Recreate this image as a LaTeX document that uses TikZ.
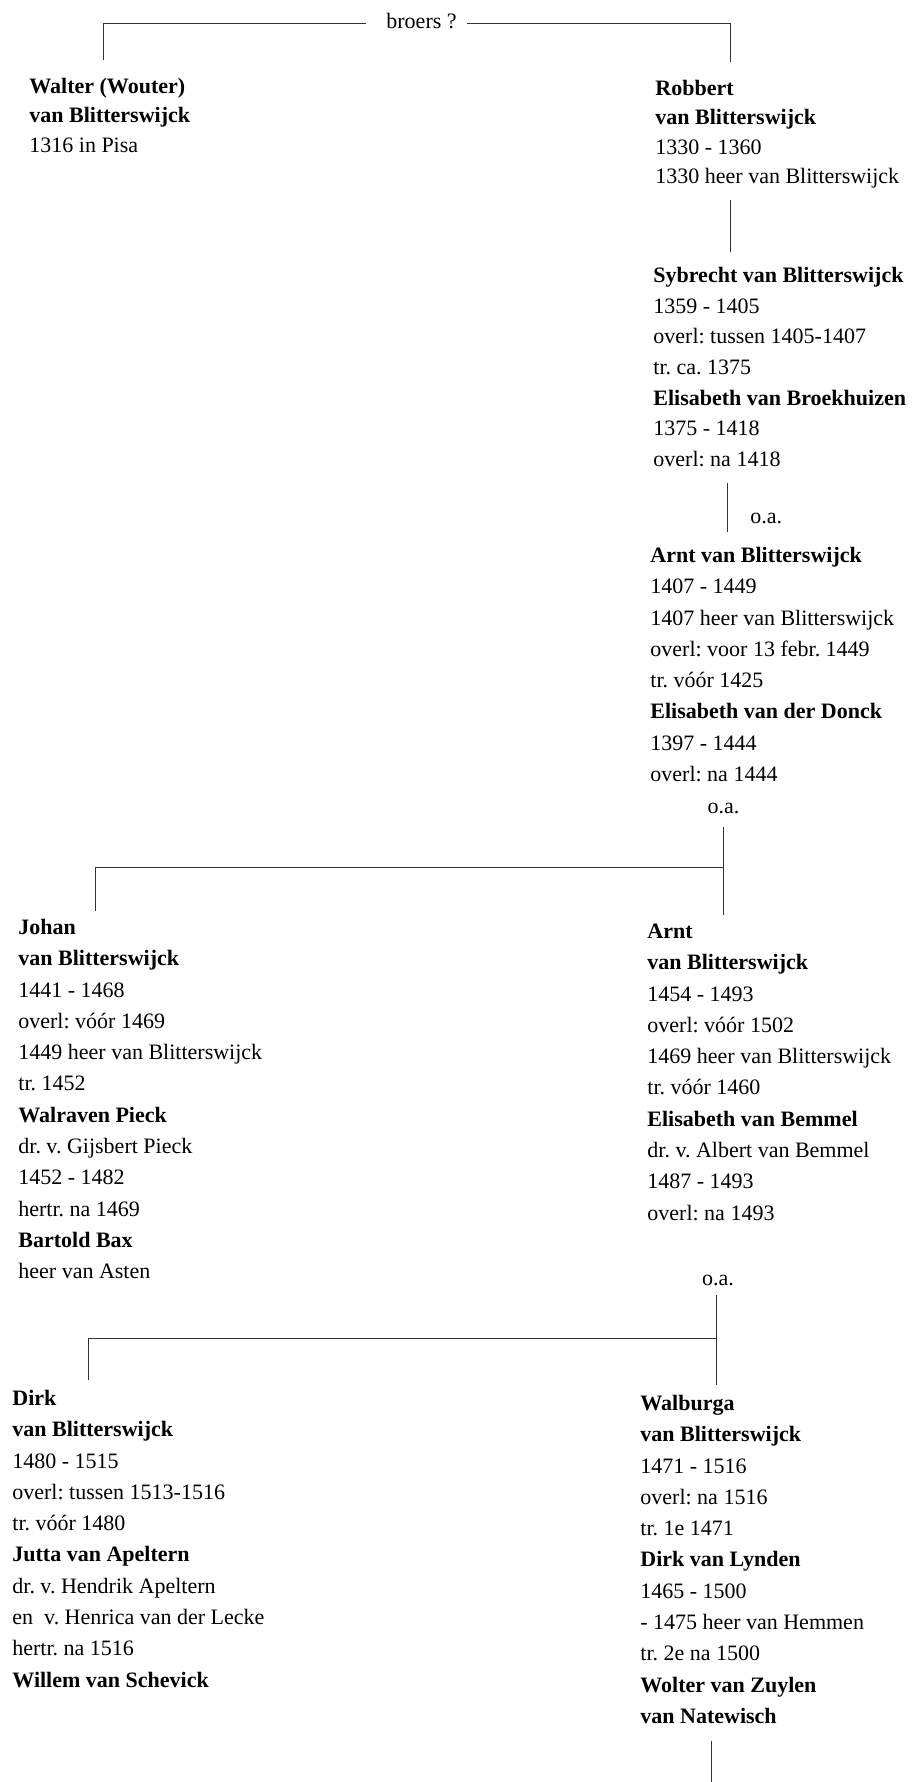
\documentclass[tikz,border=0pt]{standalone}
\usepackage{fontspec}
\setmainfont{Liberation Serif}
\frenchspacing
\newcommand\topstrut{\rule{0pt}{11pt}}
\begin{document}
\begin{tikzpicture}[x=0.5pt,y=-0.5pt,
  person/.style={anchor=north west,inner sep=0pt,align=left,font=\fontsize{11}{15.65}\selectfont},
  persontop/.style={person,font=\fontsize{11}{14.65}\selectfont},
  personmid/.style={person,font=\fontsize{11}{15.35}\selectfont},
  note/.style={inner sep=0pt,font=\fontsize{11}{13}\selectfont},
  link/.style={draw=black!80,line width=0.5pt}]
\useasboundingbox (0,0) rectangle (911,1782);

% --- top generation
\node[persontop] (walter) at (29,71) {\topstrut\textbf{Walter (Wouter)}\\\textbf{van Blitterswijck}\\1316 in Pisa};
\node[persontop] (robbert) at (655,73) {\topstrut\textbf{Robbert}\\\textbf{van Blitterswijck}\\1330 - 1360\\1330 heer van Blitterswijck};
\node[note,anchor=base west] (broers) at (386,29) {broers ?};
\coordinate (wl) at (103,60);
\coordinate (rl) at (730,62);
\draw[link] (wl) |- ([xshift=-10pt,yshift=2.5pt]broers.base west);
\draw[link] ([xshift=5pt,yshift=2.5pt]broers.base east) -| (rl);

% --- Sybrecht
\node[personmid] (sybrecht) at (653,260) {\topstrut\textbf{Sybrecht van Blitterswijck}\\1359 - 1405\\overl: tussen 1405-1407\\tr. ca. 1375\\\textbf{Elisabeth van Broekhuizen}\\1375 - 1418\\overl: na 1418};
\draw[link] ([yshift=-6pt]robbert.south -| rl) -- ([yshift=4pt]sybrecht.north -| rl);

% --- Arnt (1)
\coordinate (col1) at (727,0);
\node[person] (arnt1) at (650,540) {\topstrut\textbf{Arnt van Blitterswijck}\\1407 - 1449\\1407 heer van Blitterswijck\\overl: voor 13 febr. 1449\\tr. vóór 1425\\\textbf{Elisabeth van der Donck}\\1397 - 1444\\overl: na 1444};
\node[note,anchor=base west] (oa1) at (750,523) {o.a.};
\draw[link] ([yshift=-8pt]sybrecht.south -| col1) -- ([yshift=4pt]arnt1.north -| col1);

% --- Johan and Arnt (2)
\node[note,anchor=base] (oa2) at (723.5,813) {o.a.};
\node[person] (johan) at (18,912) {\topstrut\textbf{Johan}\\\textbf{van Blitterswijck}\\1441 - 1468\\overl: vóór 1469\\1449 heer van Blitterswijck\\tr. 1452\\\textbf{Walraven Pieck}\\dr. v. Gijsbert Pieck\\1452 - 1482\\hertr. na 1469\\\textbf{Bartold Bax}\\heer van Asten};
\node[person] (arnt2) at (647,916) {\topstrut\textbf{Arnt}\\\textbf{van Blitterswijck}\\1454 - 1493\\overl: vóór 1502\\1469 heer van Blitterswijck\\tr. vóór 1460\\\textbf{Elisabeth van Bemmel}\\dr. v. Albert van Bemmel\\1487 - 1493\\overl: na 1493};
\coordinate (fork1) at (724,867);
\coordinate (c1) at (95,911);
\draw[link] ([yshift=-7pt]oa2.base) -- ([yshift=0.5pt]oa2.base |- arnt2.north);
\draw[link] (fork1) -| (c1);

% --- Dirk and Walburga
\node[note,anchor=base] (oa3) at (718,1285) {o.a.};
\node[person] (dirk) at (12,1383) {\topstrut\textbf{Dirk}\\\textbf{van Blitterswijck}\\1480 - 1515\\overl: tussen 1513-1516\\tr. vóór 1480\\\textbf{Jutta van Apeltern}\\dr. v. Hendrik Apeltern\\en\ \ v. Henrica van der Lecke\\hertr. na 1516\\\textbf{Willem van Schevick}};
\node[person] (walburga) at (640,1388) {\topstrut\textbf{Walburga}\\\textbf{van Blitterswijck}\\1471 - 1516\\overl: na 1516\\tr. 1e 1471\\\textbf{Dirk van Lynden}\\1465 - 1500\\- 1475 heer van Hemmen\\tr. 2e na 1500\\\textbf{Wolter van Zuylen}\\\textbf{van Natewisch}};
\coordinate (fork2) at (716,1338);
\coordinate (c2) at (88,1380);
\draw[link] ([yshift=-5pt]oa3.base -| fork2) -- ([yshift=1.5pt]walburga.north -| fork2);
\draw[link] (fork2) -| (c2);

% --- continuation
\coordinate (tail) at (711,1782);
\draw[link] ([yshift=-8.5pt]walburga.south -| tail) -- (tail);
\end{tikzpicture}
\end{document}
